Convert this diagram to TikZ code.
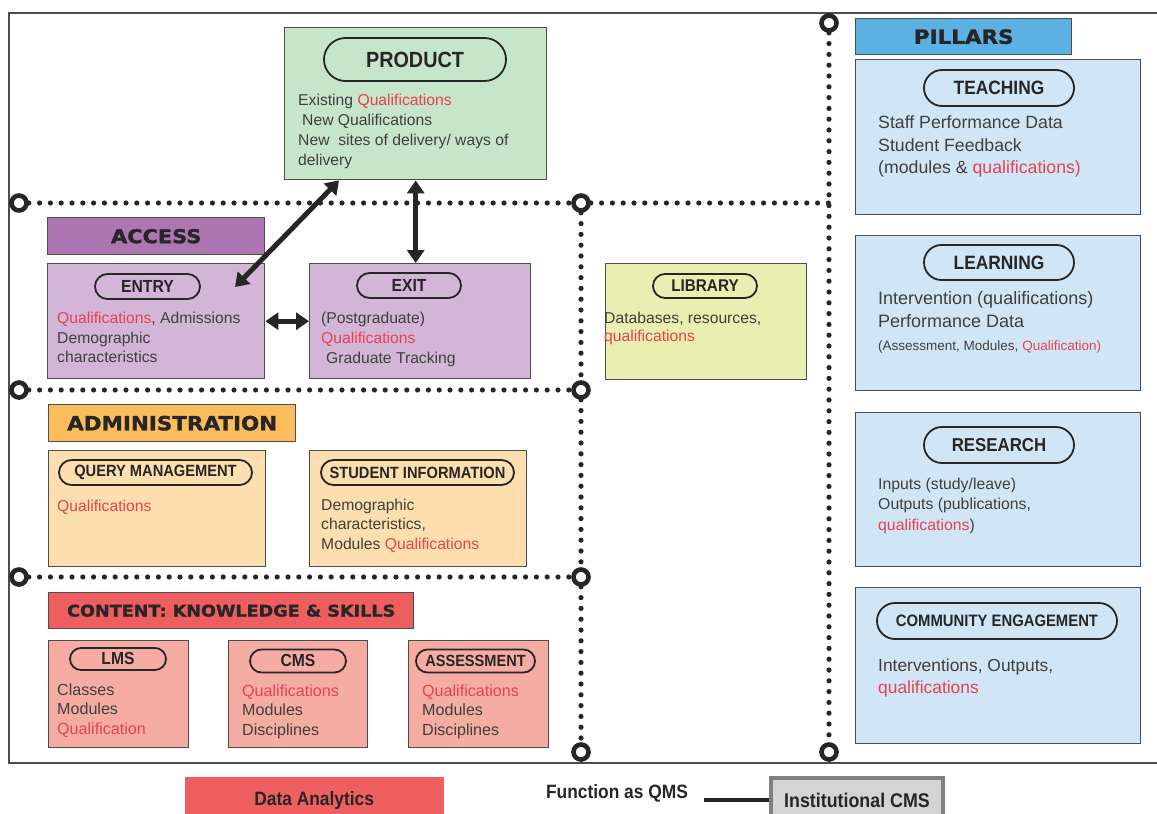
\documentclass[tikz,border=0pt]{standalone}
\usepackage{fontspec}
\setmainfont{Liberation Sans}
\newfontfamily\pillfont[FakeStretch=0.9]{Liberation Sans}
\newfontfamily\headfont[FakeStretch=1.1,BoldFeatures={FakeBold=1.5}]{DejaVu Sans}
\usetikzlibrary{arrows.meta,shapes.misc}

\definecolor{ink}{HTML}{262626}
\definecolor{edge}{HTML}{4D4D4D}
\definecolor{txt}{HTML}{3F3F3F}
\definecolor{qred}{HTML}{E8414E}
\definecolor{prodfill}{HTML}{C6E5CB}
\definecolor{acchead}{HTML}{AD76B2}
\definecolor{accfill}{HTML}{D3B5D8}
\definecolor{admhead}{HTML}{FBBD5B}
\definecolor{admfill}{HTML}{FDDFAF}
\definecolor{conhead}{HTML}{EE5E5F}
\definecolor{confill}{HTML}{F5ADA3}
\definecolor{libfill}{HTML}{E9EFB0}
\definecolor{pilhead}{HTML}{5CB1E3}
\definecolor{pilfill}{HTML}{D0E6F6}
\definecolor{dafill}{HTML}{EF5F5F}
\definecolor{cmsfill}{HTML}{D4D4D4}
\definecolor{cmsedge}{HTML}{808080}

\newcommand{\fsz}[2]{\fontsize{#1}{#2}\selectfont}
\newcommand{\qred}[1]{\textcolor{qred}{#1}}

\tikzset{
  panel/.style={draw=edge, line width=1.4pt, anchor=north west, inner sep=0pt},
  header/.style={panel, text=ink, font=\headfont\bfseries\fsz{#1}{#1}},
  pill/.style={rounded rectangle, draw=ink, line width=1.8pt, inner sep=0pt, text=ink, font=\pillfont\bfseries\fsz{#1}{#1}},
  body/.style 2 args={anchor=west, align=left, inner sep=0pt, text=txt, font=\fsz{#1}{#2}},
  ring/.style={circle, draw=ink, fill=white, line width=4.6pt, minimum size=15, inner sep=0pt},
  dotline/.style={draw=ink, line width=5.2pt, line cap=round, dash pattern=on 0pt off 10.8pt},
  dblarrow/.style={draw=ink, line width=5pt, {Triangle[length=13pt,width=17pt]}-{Triangle[length=13pt,width=17pt]}},
}

\begin{document}
\begin{tikzpicture}[x=1pt,y=1pt,yscale=-1,xscale=1]
        \useasboundingbox (0,0) rectangle (1157,814);

        %Shape: Frame
        \draw[draw=edge, line width=1.6pt] (9,13) rectangle (1175,763);

        %Shape: Rectangle [product]
        \node[panel, fill=prodfill, minimum width=262, minimum height=152] (product) at (284,27) {};
        \node[pill=22, minimum width=182, minimum height=43] (productlbl) at (415,59.5) {PRODUCT};
        % Text Node
        \node[body={15.7}{20}] (producttxt) at (298,131) {Existing \qred{Qualifications}\\\hspace{4pt}New Qualifications\\New\ \ sites of delivery/ ways of\\delivery};

        %Shape: Rectangle [access]
        \node[header=19, fill=acchead, minimum width=217, minimum height=37] (access) at (47,217) {ACCESS};
        \node[panel, fill=accfill, minimum width=217, minimum height=115] (entry) at (47,263) {};
        \node[pill=17.5, minimum width=105, minimum height=25] (entrylbl) at (147.5,286.5) {ENTRY};
        % Text Node
        \node[body={15.7}{19.5}] (entrytxt) at (57,337.5) {\qred{Qualifications},\ Admissions\\Demographic\\characteristics};
        \node[panel, fill=accfill, minimum width=221, minimum height=115] (exit) at (309,263) {};
        \node[pill=17.5, minimum width=104, minimum height=25] (exitlbl) at (409,285.5) {EXIT};
        % Text Node
        \node[body={15.7}{20}] (exittxt) at (321,339) {(Postgraduate)\\\qred{Qualifications}\\\hspace{5pt}Graduate Tracking};

        %Shape: Rectangle [library]
        \node[panel, fill=libfill, minimum width=201, minimum height=116] (library) at (605,263) {};
        \node[pill=17, minimum width=104, minimum height=24] (librarylbl) at (705,286) {LIBRARY};
        % Text Node
        \node[body={15.7}{18}] (librarytxt) at (604,328) {Databases, resources,\\\qred{qualifications}};

        %Shape: Rectangle [administration]
        \node[header=19.5, fill=admhead, minimum width=247, minimum height=37] (admin) at (48,404) {ADMINISTRATION};
        \node[panel, fill=admfill, minimum width=217, minimum height=116] (query) at (48,450) {};
        \node[pill=16.3, minimum width=193, minimum height=25] (querylbl) at (155.5,472.5) {QUERY MANAGEMENT};
        % Text Node
        \node[body={15.7}{19.5}] (querytxt) at (57,507) {\qred{Qualifications}};
        \node[panel, fill=admfill, minimum width=217, minimum height=116] (student) at (309,450) {};
        \node[pill=16.3, minimum width=193, minimum height=25] (studentlbl) at (417.5,472.5) {STUDENT INFORMATION};
        % Text Node
        \node[body={15.7}{19.5}] (studenttxt) at (321,525.5) {Demographic\\characteristics,\\Modules \qred{Qualifications}};

        %Shape: Rectangle [content]
        \node[header=16, fill=conhead, minimum width=365, minimum height=36] (content) at (48,592) {CONTENT: KNOWLEDGE \& SKILLS};
        \node[panel, fill=confill, minimum width=140, minimum height=107] (lms) at (48,640) {};
        \node[pill=17.4, minimum width=96, minimum height=22] (lmslbl) at (118,659) {LMS};
        % Text Node
        \node[body={16.1}{19.5}] (lmstxt) at (57,710.5) {Classes\\Modules\\\qred{Qualification}};
        \node[panel, fill=confill, minimum width=139, minimum height=107] (cms) at (228,640) {};
        \node[pill=17.4, minimum width=96, minimum height=23] (cmslbl) at (298,661) {CMS};
        % Text Node
        \node[body={16.1}{19.5}] (cmstxt) at (242,711.5) {\qred{Qualifications}\\Modules\\Disciplines};
        \node[panel, fill=confill, minimum width=140, minimum height=107] (assess) at (408,640) {};
        \node[pill=16.2, minimum width=119, minimum height=23] (assesslbl) at (475.5,661) {ASSESSMENT};
        % Text Node
        \node[body={16.1}{19.5}] (assesstxt) at (422,711.5) {\qred{Qualifications}\\Modules\\Disciplines};

        %Shape: Rectangle [pillars]
        \node[header=19.5, fill=pilhead, minimum width=216, minimum height=36] (pillars) at (855,18) {PILLARS};
        \node[panel, fill=pilfill, minimum width=285, minimum height=155] (teaching) at (855,59) {};
        \node[pill=19.3, minimum width=150, minimum height=36] (teachinglbl) at (999,88) {TEACHING};
        % Text Node
        \node[body={17.7}{22.5}] (teachingtxt) at (878,146.5) {Staff Performance Data\\Student Feedback\\(modules \& \qred{qualifications)}};
        \node[panel, fill=pilfill, minimum width=285, minimum height=155] (learning) at (855,235) {};
        \node[pill=19.3, minimum width=150, minimum height=35] (learninglbl) at (999,262.5) {LEARNING};
        % Text Node
        \node[body={18}{23}] (learningtxt) at (878,322) {Intervention (qualifications)\\Performance Data\\{\fsz{13.5}{23}(Assessment, Modules, \qred{Qualification)}}};
        \node[panel, fill=pilfill, minimum width=285, minimum height=154] (research) at (855,412) {};
        \node[pill=18.7, minimum width=150, minimum height=36] (researchlbl) at (999,445) {RESEARCH};
        % Text Node
        \node[body={15.8}{20.5}] (researchtxt) at (878,505.5) {Inputs (study/leave)\\Outputs (publications,\\\qred{qualifications})};
        \node[panel, fill=pilfill, minimum width=285, minimum height=156] (community) at (855,587) {};
        \node[pill=16.5, minimum width=240, minimum height=36] (communitylbl) at (997,621) {COMMUNITY ENGAGEMENT};
        % Text Node
        \node[body={17.4}{22}] (communitytxt) at (878,678) {Interventions,\ Outputs,\\\qred{qualifications}};

        %Shape: Rectangle [bottom]
        \node[panel, draw=none, fill=dafill, minimum width=259, minimum height=48, text=ink, font=\pillfont\bfseries\fsz{19.3}{19.3}] (analytics) at (184,776) {Data Analytics};
        % Text Node
        \node[inner sep=0pt, text=ink, font=\pillfont\bfseries\fsz{19.3}{19.3}] (qms) at (617,793) {Function as QMS};
        \node[panel, draw=cmsedge, line width=4pt, fill=cmsfill, minimum width=172, minimum height=44, text=ink, font=\pillfont\bfseries\fsz{19.8}{19.8}] (icms) at (769,776) {Institutional CMS};
        %Straight Lines
        \draw[draw=ink, line width=4pt] ([xshift=16pt]qms.east |- icms.west) -- (icms.west);

        %Shape: Rings
        \node[ring] (ra) at (19,203) {};
        \node[ring] (rb) at (581,203) {};
        \node[ring] (rc) at (19,390) {};
        \node[ring] (rd) at (581,390) {};
        \node[ring] (re) at (19,577) {};
        \node[ring] (rf) at (581,577) {};
        \node[ring] (rg) at (581,752) {};
        \node[ring] (rh) at (829,23) {};
        \node[ring] (ri) at (829,752) {};
        \coordinate (rj) at (829,203);

        %Dotted Lines
        \draw[dotline] (ra) -- (rb);
        \draw[dotline] (rb) -- (rj);
        \draw[dotline] (rc) -- (rd);
        \draw[dotline] (re) -- (rf);
        \draw[dotline] (rb) -- (rd);
        \draw[dotline] (rd) -- (rf);
        \draw[dotline] (rf) -- (rg);
        \draw[dotline] (rh) -- (ri);

        %Straight Lines [arrows]
        \coordinate (entrytip) at (235,287);
        \draw[dblarrow] ([xshift=55pt]product.south west) -- (entrytip);
        \draw[dblarrow] (product.south) -- (product.south |- exit.north);
        \draw[dblarrow] (entry.east) -- (exit.west);
    \end{tikzpicture}
\end{document}
